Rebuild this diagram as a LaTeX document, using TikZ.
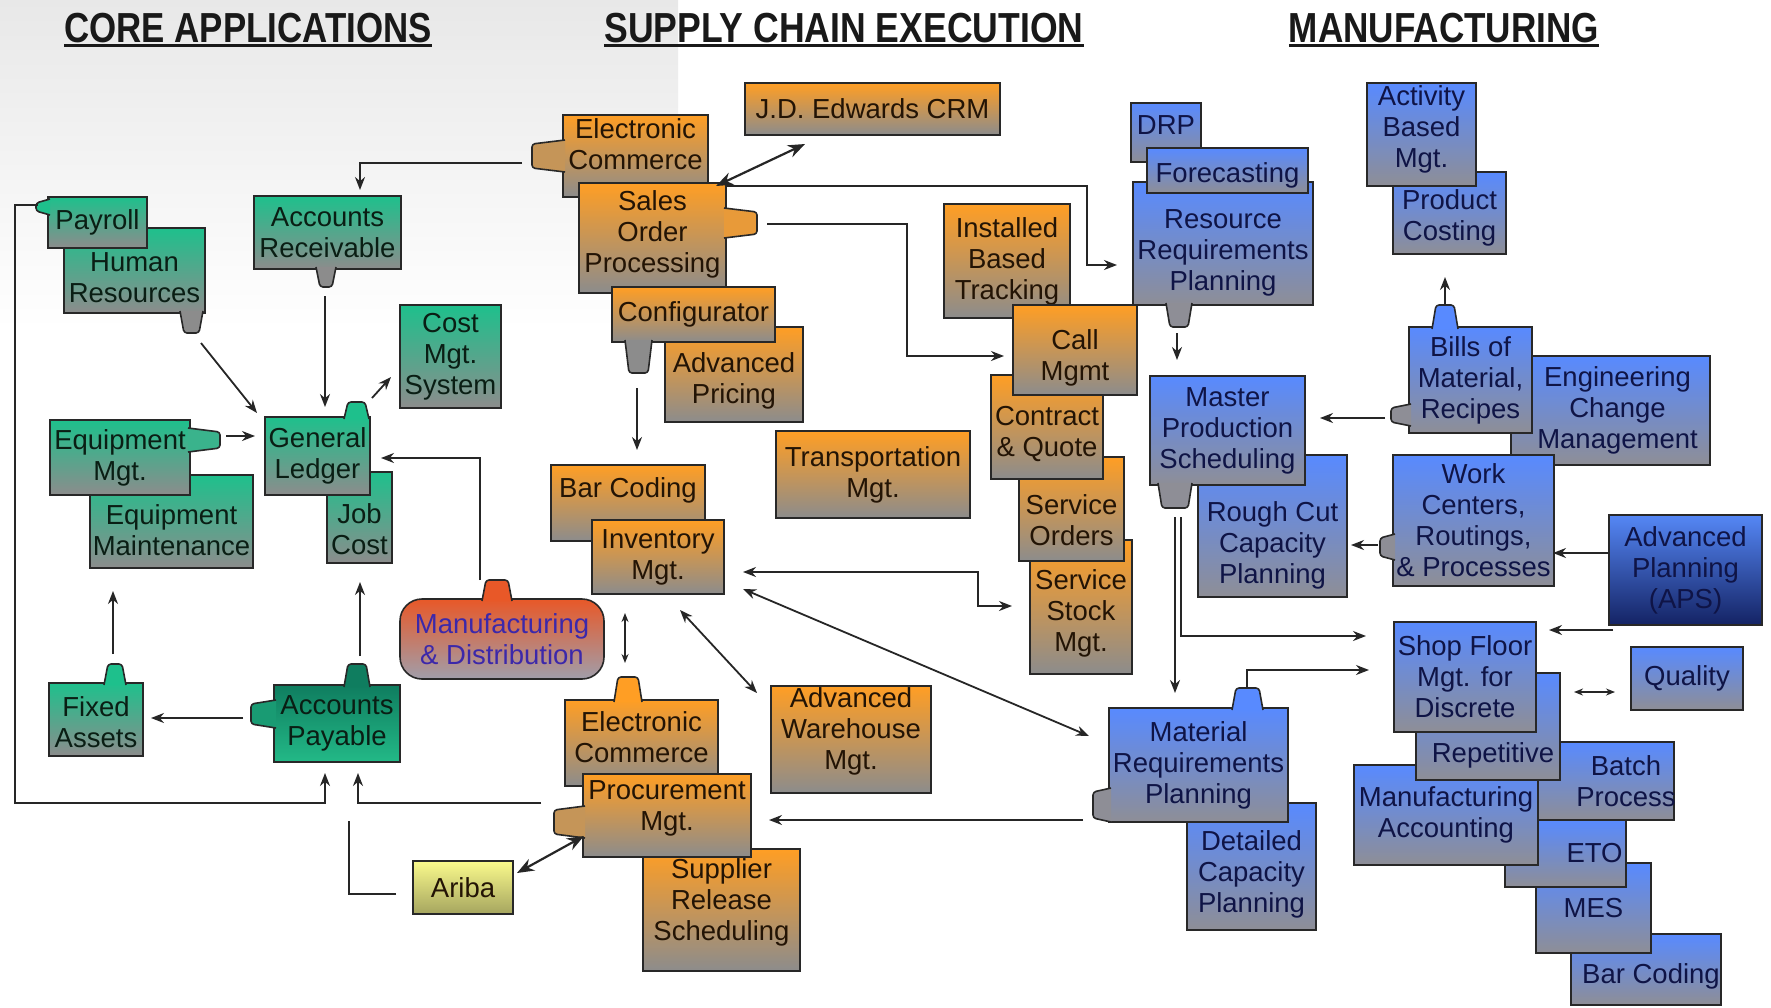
\documentclass[tikz,border=0pt]{standalone}
\usepackage{fontspec}
\setmainfont{Liberation Sans}
\usetikzlibrary{arrows.meta}
\newcommand\boxfont{\fontsize{27.5}{31}\selectfont}
\newcommand\headfont{\fontsize{42}{46}\selectfont\bfseries}
\definecolor{gcol}{RGB}{30,192,140}
\definecolor{graycol}{RGB}{140,140,140}
\definecolor{ocol}{RGB}{255,158,36}
\definecolor{bcol}{RGB}{88,138,255}
\definecolor{bgray}{RGB}{142,142,150}
\definecolor{apcol}{RGB}{15,125,95}
\definecolor{apcolb}{RGB}{35,185,135}
\definecolor{apstop}{RGB}{85,135,245}
\definecolor{apsbot}{RGB}{20,35,100}
\definecolor{mdcol}{RGB}{232,88,40}
\definecolor{mdbot}{RGB}{160,158,170}
\definecolor{arbtop}{RGB}{250,250,140}
\definecolor{arbbot}{RGB}{165,165,95}
\definecolor{bdr}{RGB}{40,40,40}
\definecolor{btxtc}{RGB}{15,20,70}
\definecolor{mdtxt}{RGB}{60,40,170}
\definecolor{gtxtc}{RGB}{10,30,20}
\definecolor{otxtc}{RGB}{35,20,5}
\tikzset{
 boxbase/.style={draw=bdr, line width=1.6pt, inner sep=0pt, outer sep=0pt},
 gbox/.style={boxbase, top color=gcol, bottom color=graycol},
 obox/.style={boxbase, top color=ocol, bottom color=graycol},
 bbox/.style={boxbase, top color=bcol, bottom color=bgray},
 apbox/.style={boxbase, top color=apcol, bottom color=apcolb},
 apsbox/.style={boxbase, top color=apstop, bottom color=apsbot},
 mdbox/.style={boxbase, rounded corners=22pt, top color=mdcol, bottom color=mdbot},
 arbbox/.style={boxbase, top color=arbtop, bottom color=arbbot},
 txtbase/.style={align=center, inner sep=0pt, font=\boxfont},
 gtxt/.style={txtbase, text=gtxtc},
 aptxt/.style={txtbase, text=gtxtc},
 otxt/.style={txtbase, text=otxtc},
 arbtxt/.style={txtbase, text=otxtc},
 btxt/.style={txtbase, text=btxtc},
 apstxt/.style={txtbase, text=btxtc},
 mdtxt/.style={txtbase, text=mdtxt},
 tabst/.style={draw=bdr, line width=1.6pt, rounded corners=3pt, line join=round},
 head/.style={font=\headfont, inner sep=0pt, text=black!90},
 arr/.style={draw=black!85, line width=1.8pt, -{Stealth[length=13pt,width=10pt]}},
 darr/.style={draw=black!85, line width=1.8pt, {Stealth[length=13pt,width=10pt]}-{Stealth[length=13pt,width=10pt]}},
 bdarr/.style={draw=black!85, line width=2.2pt, {Stealth[length=17pt,width=13pt]}-{Stealth[length=17pt,width=13pt]}},
 sdarr/.style={draw=black!85, line width=1.8pt, {Stealth[length=9pt,width=7pt]}-{Stealth[length=9pt,width=7pt]}},
 plainln/.style={draw=black!85, line width=1.8pt},
}
% box: name, style prefix, x1, y1, x2, y2, text dx, text dy, text
\newcommand\bx[9]{%
  \node[#2box, anchor=north west, minimum width={(#5)-(#3)}, minimum height={(#6)-(#4)}] (#1) at (#3,#4) {};
  \node[#2txt] (#1-t) at ([shift={(#7,#8)}]#1.center) {#9};}
% tabs: colour, from, to, base, tip
\newcommand\tabU[5]{\filldraw[tabst,fill=#1] (#2,#4+2) -- (#2+4,#5) -- (#3-4,#5) -- (#3,#4+2);}
\newcommand\tabD[5]{\filldraw[tabst,fill=#1] (#2,#4-2) -- (#2+4,#5) -- (#3-4,#5) -- (#3,#4-2);}
\newcommand\tabL[5]{\filldraw[tabst,fill=#1] (#4+2,#2) -- (#5,#2+4) -- (#5,#3-4) -- (#4+2,#3);}
\newcommand\tabR[5]{\filldraw[tabst,fill=#1] (#4-2,#2) -- (#5,#2+4) -- (#5,#3-4) -- (#4-2,#3);}
\begin{document}
\begin{tikzpicture}[x=1pt,y=-1pt]
\useasboundingbox (0,0) rectangle (1771,1007);
\fill[white] (0,0) rectangle (1771,1007);
\shade[top color=black!9, bottom color=white] (0,0) rectangle (678,330);

% headings
\node[head, anchor=base] (h1) at (248,42) {\scalebox{0.83}[1]{CORE APPLICATIONS}};
\node[head, anchor=base] (h2) at (844,42) {\scalebox{0.847}[1]{SUPPLY CHAIN EXECUTION}};
\node[head, anchor=base] (h3) at (1444,42) {\scalebox{0.836}[1]{MANUFACTURING}};
\foreach \h in {h1,h2,h3}{\draw[line width=2.6pt, black!90] ([yshift=-3.5pt]\h.base west) -- ([yshift=-3.5pt]\h.base east);}

% ---------------- core applications (green)
\bx{hr}{g}{64}{228}{205}{313}{0}{7}{Human\\Resources}
\tabD{graycol}{180}{203}{313}{333}
\bx{payroll}{g}{48}{197}{147}{248}{0}{0}{Payroll}
\tabL{gcol}{199}{215}{48}{36}
\bx{ar}{g}{254}{196}{401}{269}{0}{0}{Accounts\\Receivable}
\tabD{graycol}{316}{336}{269}{287}
\bx{cost}{g}{400}{305}{501}{408}{0}{0}{Cost\\Mgt.\\System}
\bx{job}{g}{327}{472}{392}{563}{0}{12}{Job\\Cost}
\bx{gl}{g}{265}{417}{370}{495}{0}{0}{General\\Ledger}
\tabU{gcol}{344}{369}{417}{402}
\bx{eqmaint}{g}{90}{475}{253}{568}{0}{9}{Equipment\\Maintenance}
\bx{eqm}{g}{50}{420}{190}{495}{0}{0}{Equipment\\Mgt.}
\tabR{gcol!75!graycol}{428}{452}{190}{220}
\bx{fixed}{g}{49}{683}{143}{756}{0}{3}{Fixed\\Assets}
\tabU{gcol}{104}{126}{683}{664}
\bx{ap}{ap}{274}{685}{400}{762}{0}{0}{Accounts\\Payable}
\tabU{apcol}{344}{370}{685}{664}
\tabL{apcol!50!apcolb}{700}{728}{274}{251}
\bx{md}{md}{400}{599}{604}{679}{0}{0}{Manufacturing\\\& Distribution}
\tabU{mdcol}{482}{512}{599}{580}
\bx{ariba}{arb}{413}{861}{513}{914}{0}{0}{Ariba}

% ---------------- supply chain execution (orange)
\bx{ec1}{o}{563}{115}{708}{197}{0}{-12}{Electronic\\Commerce}
\tabL{ocol!50!graycol}{140}{172}{563}{532}
\bx{jd}{o}{745}{83}{1000}{135}{0}{0}{J.D. Edwards CRM}
\bx{sop}{o}{579}{183}{726}{293}{0}{-4}{Sales\\Order\\Processing}
\tabR{ocol!80!graycol}{208}{238}{726}{757}
\bx{advpr}{o}{665}{327}{803}{422}{0}{6}{Advanced\\Pricing}
\bx{config}{o}{612}{287}{775}{342}{0}{0}{Configurator}
\tabD{graycol}{625}{652}{342}{373}
\bx{trans}{o}{776}{431}{970}{518}{0}{0}{Transportation\\Mgt.}
\bx{ibt}{o}{944}{204}{1070}{318}{0}{0}{Installed\\Based\\Tracking}
\bx{ssm}{o}{1030}{540}{1132}{674}{0}{6}{Service\\Stock\\Mgt.}
\bx{so}{o}{1019}{457}{1124}{561}{0}{11}{Service\\Orders}
\bx{contract}{o}{991}{375}{1103}{479}{0}{7}{Contract\\\& Quote}
\bx{call}{o}{1013}{305}{1137}{395}{0}{8}{Call\\Mgmt}
\bx{bar}{o}{551}{465}{705}{541}{0}{-13}{Bar Coding}
\bx{inv}{o}{592}{520}{724}{594}{0}{0}{Inventory\\Mgt.}
\bx{ec2}{o}{565}{700}{718}{786}{0}{-6}{Electronic\\Commerce}
\tabU{ocol}{614}{642}{700}{677}
\bx{srs}{o}{643}{849}{800}{971}{0}{-8}{Supplier\\Release\\Scheduling}
\bx{proc}{o}{583}{774}{751}{857}{0}{-7}{Procurement\\Mgt.}
\tabL{ocol!50!graycol}{806}{838}{583}{554}
\bx{awm}{o}{771}{686}{931}{793}{0}{-8}{Advanced\\Warehouse\\Mgt.}

% ---------------- manufacturing (blue)
\bx{drp}{b}{1131}{103}{1201}{162}{0}{-7}{DRP}
\bx{rrp}{b}{1133}{182}{1313}{305}{0}{9}{Resource\\Requirements\\Planning}
\tabD{bgray}{1166}{1192}{305}{327}
\bx{fc}{b}{1147}{148}{1308}{193}{0}{5}{Forecasting}
\bx{pc}{b}{1393}{172}{1506}{254}{0}{5}{Product\\Costing}
\bx{abm}{b}{1367}{83}{1476}{186}{0}{-5}{Activity\\Based\\Mgt.}
\bx{ecm}{b}{1511}{356}{1710}{465}{7}{0}{Engineering\\Change\\Management}
\bx{bom}{b}{1409}{327}{1532}{433}{0}{0}{Bills of\\Material,\\Recipes}
\tabU{bcol}{1432}{1458}{327}{305}
\tabL{bgray}{404}{426}{1409}{1391}
\bx{rccp}{b}{1198}{455}{1347}{597}{0}{19}{Rough Cut\\Capacity\\Planning}
\bx{mps}{b}{1150}{376}{1305}{485}{0}{0}{Master\\Production\\Scheduling}
\tabD{bgray}{1158}{1192}{485}{508}
\bx{wc}{b}{1393}{455}{1554}{586}{0}{0}{Work\\Centers,\\Routings,\\\& Processes}
\tabL{bgray}{534}{560}{1393}{1380}
\bx{aps}{aps}{1609}{515}{1762}{625}{0}{0}{Advanced\\Planning\\(APS)}
\bx{dcp}{b}{1187}{803}{1316}{930}{0}{8}{Detailed\\Capacity\\Planning}
\bx{mrp}{b}{1109}{708}{1288}{822}{0}{0}{Material\\Requirements\\Planning}
\tabU{bcol}{1232}{1263}{708}{688}
\tabL{bgray}{788}{822}{1109}{1093}
\bx{barcode2}{b}{1571}{934}{1721}{1005}{5}{7}{Bar Coding}
\bx{mes}{b}{1536}{863}{1651}{953}{0}{0}{MES}
\bx{eto}{b}{1505}{820}{1626}{887}{29}{0}{ETO}
\bx{batch}{b}{1538}{742}{1674}{820}{20}{0}{Batch\\Process}
\bx{ma}{b}{1354}{765}{1538}{865}{0}{0}{Manufacturing\\Accounting}
\bx{rep}{b}{1416}{673}{1560}{780}{5}{29}{Repetitive}
\bx{sfm}{b}{1394}{622}{1536}{732}{0}{0}{Shop Floor\\Mgt. for\\Discrete}
\bx{quality}{b}{1631}{647}{1743}{710}{0}{0}{Quality}

% ---------------- connectors
\draw[arr] ([xshift=-41pt,yshift=-7pt]ec1.west) -| ([xshift=32.5pt,yshift=6pt]ar.north);
\draw[arr] ([xshift=-10pt,yshift=17.5pt]payroll.west) -- ++(-23,0) -- ++(0,598) -| ([xshift=-12pt,yshift=-11pt]ap.south);
\draw[arr] ([xshift=-4pt,yshift=-30pt]hr.south east) -- ([xshift=-8pt,yshift=4pt]gl.north west);
\draw[arr] ([xshift=-2.5pt,yshift=-27pt]ar.south) -- ([xshift=7.5pt,yshift=10pt]gl.north);
\draw[arr] ([xshift=2pt,yshift=19pt]gl.north east) -- ([xshift=-9pt,yshift=-20.5pt]cost.west);
\draw[arr] ([xshift=36pt,yshift=21.5pt]eqm.east) -- ([xshift=-10pt,yshift=20pt]gl.west);
\draw[arr] ([xshift=17pt,yshift=29pt]fixed.north) -- ([xshift=-58.5pt,yshift=-23pt]eqmaint.south);
\draw[arr] ([xshift=23pt,yshift=29pt]ap.north) -- ([xshift=0.5pt,yshift=-19pt]job.south);
\draw[arr] ([xshift=-31pt,yshift=5.5pt]ap.west) -- ([xshift=8pt,yshift=1.5pt]fixed.east);
\draw[arr] ([xshift=-22pt,yshift=19pt]md.north) |- ([xshift=11pt,yshift=-2pt]gl.east);
\draw[arr] ([xshift=-42pt,yshift=12.5pt]proc.west) -| ([xshift=21pt,yshift=-11pt]ap.south);
\draw[plainln] ([xshift=-17pt,yshift=-6.5pt]ariba.west) -| ([xshift=12pt,yshift=-59pt]ap.south);
\draw[bdarr] ([xshift=4pt,yshift=14.5pt]ariba.east) -- ([xshift=1pt,yshift=21pt]proc.south west);
\draw[bdarr] ([xshift=-10pt,yshift=-3pt]sop.north east) -- ([xshift=-67.5pt,yshift=-9pt]jd.south);
\draw[arr] ([yshift=-3pt]sop.north east) -- ++(361,0) |- ([xshift=-16pt,yshift=-21.5pt]rrp.west);
\draw[arr] ([xshift=41pt,yshift=14pt]sop.east) -- ++(140,0) |- ([xshift=-9pt,yshift=-6pt]call.west);
\draw[arr] ([xshift=-56.5pt,yshift=-46pt]config.south) -- ([xshift=9pt,yshift=15pt]bar.north);
\draw[sdarr] ([xshift=-33pt,yshift=-19pt]inv.south) -- ([xshift=-16.5pt,yshift=37pt]ec2.north);
\draw[darr] ([xshift=22pt,yshift=-16pt]inv.south) -- ([xshift=-14pt,yshift=-7pt]awm.north west);
\draw[darr] ([xshift=19pt,yshift=-15pt]inv.east) -- ++(235,0) |- ([xshift=-18pt,yshift=1pt]ssm.west);
\draw[darr] ([xshift=19pt,yshift=-32pt]inv.east) -- ([xshift=-20pt,yshift=29pt]mrp.west);
\draw[arr] ([xshift=-26pt,yshift=2pt]mrp.south west) -- ([xshift=18pt,yshift=-4.5pt]proc.east);
\draw[arr] ([xshift=-46pt,yshift=-28pt]rrp.south) -- ([xshift=-50.5pt,yshift=16pt]mps.north);
\draw[arr] ([xshift=-25.5pt,yshift=22pt]bom.north) -- ([xshift=-4.5pt,yshift=-23pt]pc.south);
\draw[arr] ([xshift=-24pt,yshift=-38pt]bom.west) -- ([xshift=15pt,yshift=12.5pt]mps.east);
\draw[arr] ([xshift=-15pt,yshift=-24.5pt]wc.west) -- ([xshift=4pt,yshift=-19pt]rccp.east);
\draw[arr] ([yshift=17pt]aps.west) -- ([xshift=-1pt,yshift=-32.5pt]wc.east);
\draw[arr] ([xshift=4pt,yshift=-5pt]aps.south west) -- ([xshift=13pt,yshift=-8pt]sfm.north east);
\draw[sdarr] ([xshift=38pt,yshift=-15pt]sfm.east) -- ([xshift=-16pt,yshift=-13.5pt]quality.west);
\draw[arr] ([xshift=-52.5pt,yshift=-32pt]mps.south) -- ([xshift=-23.5pt,yshift=15pt]mrp.north);
\draw[arr] ([xshift=-46.5pt,yshift=-32pt]mps.south) |- ([xshift=-28pt,yshift=41pt]sfm.west);
\draw[arr] ([xshift=48.5pt,yshift=20pt]mrp.north) |- ([xshift=-25pt,yshift=7pt]sfm.west);
\end{tikzpicture}
\end{document}
